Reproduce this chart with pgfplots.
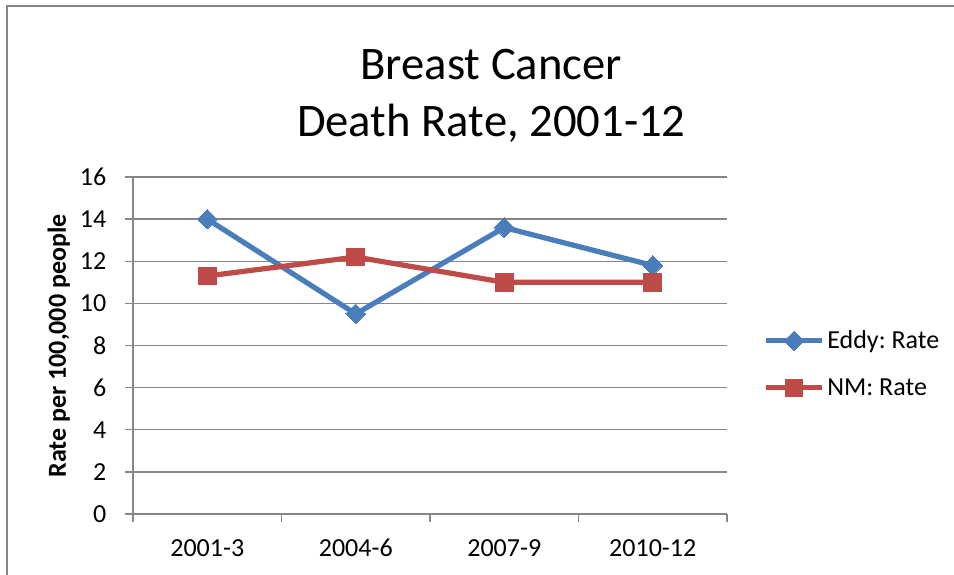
\documentclass[border=0pt]{standalone}
\usepackage{pgfplots}
\pgfplotsset{compat=1.18}
\usepackage{fontspec}
\setmainfont{Carlito}
\definecolor{eddyblue}{RGB}{74,126,187}
\definecolor{nmred}{RGB}{190,75,72}
\definecolor{gridgray}{RGB}{134,134,134}
\begin{document}
\frenchspacing
\begin{tikzpicture}
\path[use as bounding box] (0,0) rectangle (715.5pt,431.25pt);
\draw[gridgray, line width=0.9pt] (5.25pt,-10pt) -- (5.25pt,426.75pt) -- (730pt,426.75pt);
\node[anchor=base, font=\fontsize{35}{42}\selectfont] at (368.5pt,371.25pt) {Breast Cancer};
\node[anchor=base, font=\fontsize{35}{42}\selectfont] at (368.5pt,328.5pt) {Death Rate, 2001-12};
\begin{axis}[
  at={(99.75pt,45.75pt)}, anchor=south west,
  scale only axis, width=445.5pt, height=252.75pt,
  xmin=-0.5, xmax=3.5, ymin=0, ymax=16,
  ytick={0,2,...,16},
  xtick={-0.5,0.5,1.5,2.5,3.5},
  x tick label as interval,
  xticklabels={2001-3,2004-6,2007-9,2010-12},
  axis x line*=bottom, axis y line*=left,
  axis line style={gridgray, line width=1.1pt, -},
  tick style={gridgray, line width=1.1pt},
  tick align=outside, major tick length=6pt,
  ymajorgrids, grid style={gridgray, line width=1.1pt},
  ticklabel style={font=\fontsize{19.5}{23}\selectfont},
  yticklabel style={xshift=-10.5pt},
  xticklabel style={yshift=-9.5pt},
  /pgf/number format/assume math mode=true,
  ylabel={\textbf{Rate per 100,000 people}},
  ylabel style={font=\fontsize{19.5}{23}\selectfont, at={(axis description cs:-0.125,0.4985)}, anchor=center},
  legend style={draw=none, fill=none, at={(axis description cs:1.061,0.445)}, anchor=west, inner sep=0pt,
    font=\fontsize{19.5}{23}\selectfont, row sep=16.75pt},
  legend cell align=left,
  legend image code/.code={\draw[#1, mark repeat=2, mark phase=2] plot coordinates {(0pt,0pt) (21pt,0pt) (42pt,0pt)};},
  clip=false,
]
\addplot[eddyblue, line width=3.9pt, mark=square*, mark size=5.2pt, mark options={rotate=45, solid, line width=0pt}]
  coordinates {(0,14.0) (1,9.5) (2,13.6) (3,11.8)};
\addlegendentry{Eddy: Rate}
\addplot[nmred, line width=3.9pt, mark=square*, mark size=6.6pt, mark options={solid, line width=0pt}]
  coordinates {(0,11.3) (1,12.2) (2,11.0) (3,11.0)};
\addlegendentry{NM: Rate}
\end{axis}
\end{tikzpicture}
\end{document}
